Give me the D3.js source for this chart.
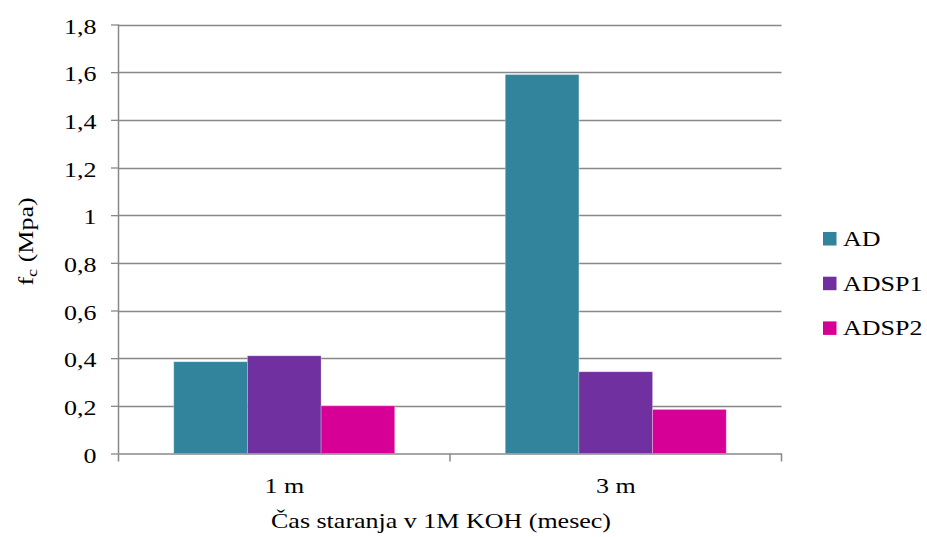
<!DOCTYPE html>
<html><head><meta charset="utf-8">
<script src="https://cdn.jsdelivr.net/npm/d3@7"></script>
<style>
body{margin:0;background:#fff;}
svg text{font-family:"Liberation Serif","Times New Roman",serif;font-size:20px;fill:#000;}
svg tspan.sub{font-size:14px;}
</style></head>
<body><svg id="c" width="927" height="537"></svg>
<script>
const categories = ["1 m", "3 m"];
const seriesNames = ["AD", "ADSP1", "ADSP2"];
const seriesColors = ["#31849B", "#7030A0", "#D60096"];
const AD = [0.385, 1.59];
const ADSP1 = [0.41, 0.343];
const ADSP2 = [0.2, 0.185];
const seriesValues = [AD, ADSP1, ADSP2];
const yTicks = [0, 0.2, 0.4, 0.6, 0.8, 1, 1.2, 1.4, 1.6, 1.8];

const SX = 1.3; // horizontal glyph stretch seen in the reference
const svg = d3.select("#c");
const L = 118.5, R = 781.5, T = 24.5, B = 453.5;
const x = d3.scaleBand().domain(categories).range([L, R]);
const xs = d3.scaleBand().domain(seriesNames).range([0, x.bandwidth()]).paddingOuter(0.75).paddingInner(0);
const y = d3.scaleLinear().domain([0, 1.8]).range([B, T]);
const fmt = d => d3.format("")(d).replace(".", ",");

// gridlines
svg.append("g").selectAll("line").data(yTicks.filter(d => d > 0)).join("line")
  .attr("x1", L).attr("x2", R).attr("y1", d => Math.round(y(d)) + 0.5).attr("y2", d => Math.round(y(d)) + 0.5)
  .attr("stroke", "#888").attr("stroke-width", 1.3);

// bars
seriesNames.forEach((s, i) => {
  svg.append("g").selectAll("rect").data(categories).join("rect")
    .attr("x", c => x(c) + xs(s))
    .attr("width", xs.bandwidth())
    .attr("y", (c, j) => y(seriesValues[i][j]))
    .attr("height", (c, j) => B - y(seriesValues[i][j]))
    .attr("fill", seriesColors[i])
    .attr("stroke", "rgba(255,255,255,0.35)").attr("stroke-width", 0.8);
});

// y axis
const ya = d3.axisLeft(y).tickValues(yTicks).tickFormat(fmt).tickSize(7.5);
const gy = svg.append("g").attr("transform", `translate(${L},0)`).call(ya);
gy.attr("font-size", null).attr("font-family", null);
gy.select(".domain").attr("stroke", "#888").attr("stroke-width", 1.5).attr("d", `M0,${T}V${B}`);
gy.selectAll(".tick line").attr("stroke", "#888").attr("stroke-width", 1.3);
gy.selectAll(".tick text").attr("fill", "#000").attr("x", null).attr("dy", null)
  .attr("transform", `translate(-22,8.8) scale(${SX},1)`);

// x axis
const xa = d3.axisBottom(x).tickSize(0);
const gx = svg.append("g").attr("transform", `translate(0,${B})`).call(xa);
gx.attr("font-size", null).attr("font-family", null);
gx.select(".domain").attr("stroke", "#888").attr("stroke-width", 1.5);
gx.selectAll(".tick text").attr("fill", "#000").attr("y", null).attr("dy", null)
  .attr("transform", `translate(0,39.5) scale(${SX},1)`);
// category separator ticks
const seps = [L, ...categories.map(c => x(c) + x.bandwidth())];
svg.append("g").selectAll("line").data(seps).join("line")
  .attr("x1", d => d).attr("x2", d => d).attr("y1", B).attr("y2", B + 8)
  .attr("stroke", "#888").attr("stroke-width", 1.5);

// x title
svg.append("text").attr("transform", `translate(441,528) scale(${SX},1)`).attr("text-anchor", "middle")
  .text("Čas staranja v 1M KOH (mesec)");

// y title
const yt = svg.append("text").attr("transform", `translate(33,241.5) rotate(-90) scale(${SX},1)`).attr("text-anchor", "middle");
yt.append("tspan").text("f");
yt.append("tspan").attr("class", "sub").attr("dy", 4).text("c");
yt.append("tspan").attr("dy", -4).text(" (Mpa)");

// legend
const lg = svg.append("g");
seriesNames.forEach((s, i) => {
  const top = 232 + i * 44.7;
  lg.append("rect").attr("x", 823).attr("y", top).attr("width", 13.5).attr("height", 13.5).attr("fill", seriesColors[i]);
  lg.append("text").attr("transform", `translate(843,${top + 14}) scale(${SX},1)`).text(s);
});
</script></body></html>
